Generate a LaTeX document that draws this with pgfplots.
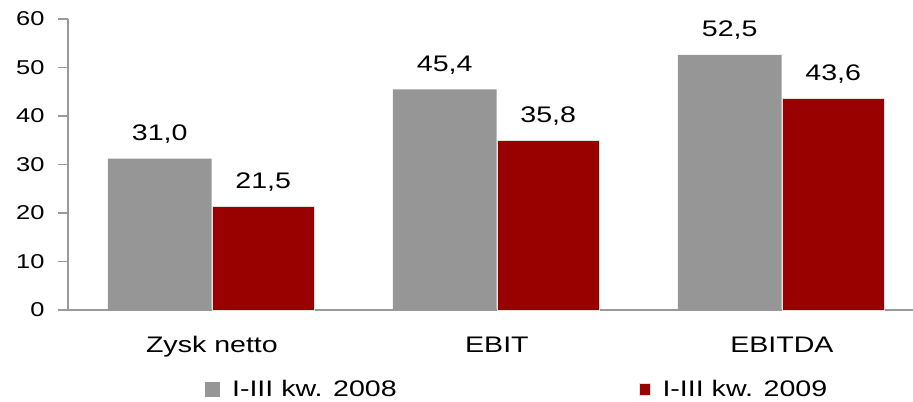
\documentclass[border=0pt]{standalone}
\usepackage{fontspec}
\setmainfont[FakeStretch=1.27]{Liberation Sans}
\usepackage{pgfplots}
\pgfplotsset{compat=1.18}
\definecolor{bargray}{HTML}{969696}
\definecolor{barred}{HTML}{990000}
\definecolor{axgray}{HTML}{9A9A9A}
\newcommand{\lblfont}{\fontsize{22.5bp}{26bp}\selectfont}
\newcommand{\tickfont}{\fontsize{20bp}{24bp}\selectfont}
\begin{document}
\begin{tikzpicture}
\useasboundingbox (-68bp,-92bp) rectangle (845bp,310bp);
\begin{axis}[
  at={(0,0)}, anchor=south west,
  scale only axis, width=845bp, height=291bp,
  xmin=-0.505, xmax=2.46, ymin=0, ymax=60,
  axis x line=bottom, axis y line=left,
  axis line style={-, draw=axgray, line width=1.2bp},
  ytick={0,10,...,60},
  xtick={0,1,2},
  xticklabels={Zysk netto, EBIT, EBITDA},
  x tick style={draw=none},
  y tick style={draw=axgray, line width=1.2bp},
  tick align=outside,
  major tick length=10bp,
  /pgf/number format/assume math mode=true,
  yticklabel style={font=\tickfont, anchor=east, xshift=-10bp},
  xticklabel style={font=\lblfont, anchor=base, yshift=-32bp},
  ybar, 
  legend columns=2,
  legend cell align=left,
  legend style={draw=none, fill=none, font=\lblfont, inner sep=0pt,
    at={(axis description cs:0.162,-0.272)}, anchor=west,
    /tikz/every even column/.append style={column sep=240bp}},
]
\addplot[ybar, bar width=0.364, bar shift=-0.183, fill=bargray, draw=none,
  nodes near coords, point meta=explicit symbolic,
  every node near coord/.append style={font=\lblfont, text=black, anchor=base, yshift=18bp},
  legend image code/.code={\fill[bargray] (0bp,-7.5bp) rectangle (15bp,7.5bp); \path (25bp,0bp);}]
  coordinates {(0,31.2)[31,0] (1,45.5)[45,4] (2,52.6)[52,5]};
\addplot[ybar, bar width=0.358, bar shift=0.18, fill=barred, draw=black!12, line width=0.8bp,
  nodes near coords, point meta=explicit symbolic,
  every node near coord/.append style={font=\lblfont, text=black, anchor=base, yshift=18bp},
  legend image code/.code={\filldraw[fill=barred, draw=black!12, line width=0.8bp] (0bp,-6bp) rectangle (11bp,6bp); \path (21bp,0bp);}]
  coordinates {(0,21.3)[21,5] (1,34.9)[35,8] (2,43.7)[43,6]};
\legend{I-III kw. 2008, I-III kw. 2009}
\end{axis}
\end{tikzpicture}
\end{document}
